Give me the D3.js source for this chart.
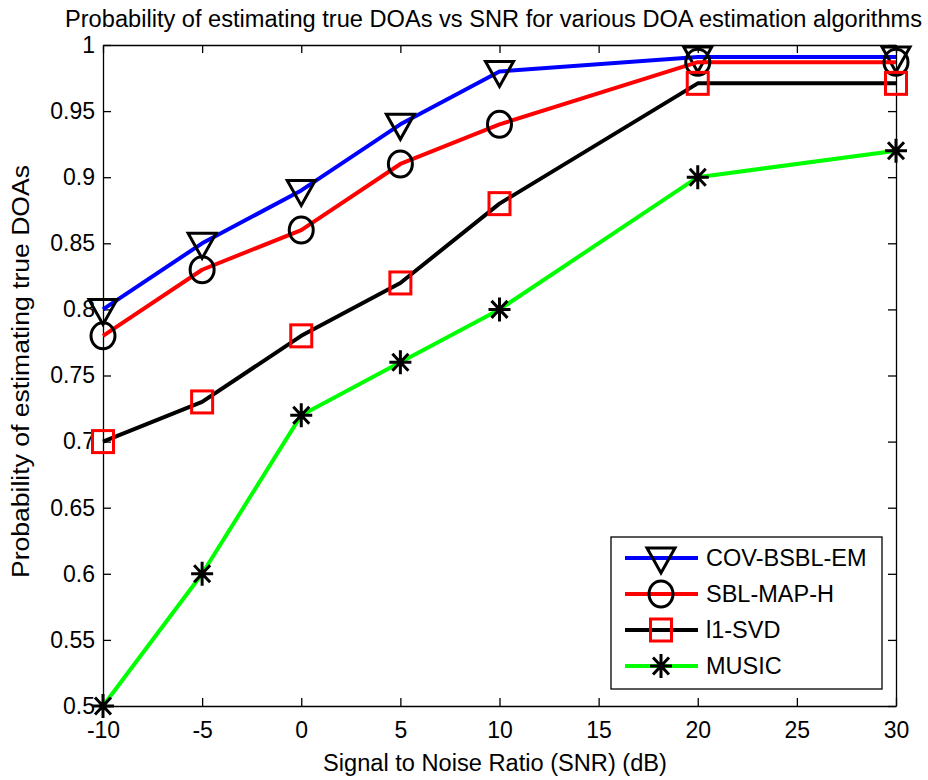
<!DOCTYPE html>
<html>
<head>
<meta charset="utf-8">
<script src="https://cdn.jsdelivr.net/npm/d3@7"></script>
<style>
  body { margin: 0; background: #fff; }
  text { font-family: "Liberation Sans", Arial, sans-serif; fill: #000; }
  .axis path, .axis line { stroke: #000; stroke-width: 1.3; }
  .axis text { font-size: 23px; }
</style>
</head>
<body>
<div id="chart"></div>
<script>
// SNR values (dB) and per-algorithm probabilities
const snr = [-10, -5, 0, 5, 10, 20, 30];
const covBsblEm = [0.80, 0.85, 0.89, 0.94, 0.98, 0.991, 0.991];
const sblMapH = [0.78, 0.83, 0.86, 0.91, 0.94, 0.987, 0.987];
const l1Svd = [0.70, 0.73, 0.78, 0.82, 0.88, 0.971, 0.971];
const music = [0.50, 0.60, 0.72, 0.76, 0.80, 0.90, 0.92];

const seriesNames = ['COV-BSBL-EM', 'SBL-MAP-H', 'l1-SVD', 'MUSIC'];
const legendLabels = ['COV-BSBL-EM', 'SBL-MAP-H', 'l1-SVD', 'MUSIC'];

const xTicks = [-10, -5, 0, 5, 10, 15, 20, 25, 30];
const xTickLabels = ['-10', '-5', '0', '5', '10', '15', '20', '25', '30'];
const yTicks = [0.5, 0.55, 0.6, 0.65, 0.7, 0.75, 0.8, 0.85, 0.9, 0.95, 1];
const yTickLabels = ['0.5', '0.55', '0.6', '0.65', '0.7', '0.75', '0.8', '0.85', '0.9', '0.95', '1'];

(function() {
  const W = 928, H = 780;
  const margin = { top: 45, left: 103, right: 32, bottom: 74 },
    width = W - margin.left - margin.right,
    height = H - margin.top - margin.bottom;

  const svg = d3.select('#chart')
    .append('svg')
      .attr('width', W)
      .attr('height', H);

  svg.append('rect').attr('width', W).attr('height', H).attr('fill', '#fff');

  const g = svg.append('g')
    .attr('transform', `translate(${margin.left},${margin.top})`);

  const x = d3.scaleLinear().domain([-10, 30]).range([0, width]);
  const y = d3.scaleLinear().domain([0.5, 1]).range([height, 0]);

  /*
    matlab style box: ticks inside on all four sides,
    labels only on bottom and left
  */
  g.append('g')
    .attr('class', 'axis')
    .attr('transform', `translate(0,${height})`)
    .call(d3.axisBottom(x).tickValues(xTicks).tickSize(-8).tickSizeOuter(0).tickPadding(16)
      .tickFormat((d, i) => xTickLabels[i]));

  g.append('g')
    .attr('class', 'axis')
    .call(d3.axisLeft(y).tickValues(yTicks).tickSize(-8).tickSizeOuter(0).tickPadding(8)
      .tickFormat((d, i) => yTickLabels[i]));

  g.append('g')
    .attr('class', 'axis')
    .call(d3.axisTop(x).tickValues(xTicks).tickSize(-8).tickSizeOuter(0).tickFormat(''));

  g.append('g')
    .attr('class', 'axis')
    .attr('transform', `translate(${width},0)`)
    .call(d3.axisRight(y).tickValues(yTicks).tickSize(-8).tickSizeOuter(0).tickFormat(''));

  g.selectAll('.axis .tick text').attr('font-family', '"Liberation Sans", Arial, sans-serif');

  // marker shapes
  function drawMarker(sel, type) {
    if (type === 'tri') {
      sel.append('path')
        .attr('d', 'M-14,-10L14,-10L0,15Z')
        .attr('fill', 'none').attr('stroke', '#000').attr('stroke-width', 3);
    } else if (type === 'circle') {
      sel.append('ellipse')
        .attr('rx', 12).attr('ry', 13)
        .attr('fill', 'none').attr('stroke', '#000').attr('stroke-width', 3);
    } else if (type === 'square') {
      sel.append('rect')
        .attr('x', -10.5).attr('y', -11).attr('width', 21).attr('height', 22)
        .attr('fill', 'none').attr('stroke', '#ff0000').attr('stroke-width', 3);
    } else {
      sel.append('path')
        .attr('d', 'M-11,0L11,0M0,-12L0,12M-8,-8.5L8,8.5M-8,8.5L8,-8.5')
        .attr('fill', 'none').attr('stroke', '#000').attr('stroke-width', 3);
    }
  }

  const series = [
    { name: seriesNames[0], values: covBsblEm, color: '#0000ff', marker: 'tri' },
    { name: seriesNames[1], values: sblMapH, color: '#ff0000', marker: 'circle' },
    { name: seriesNames[2], values: l1Svd, color: '#000000', marker: 'square' },
    { name: seriesNames[3], values: music, color: '#00ff00', marker: 'star' }
  ];

  const line = d3.line()
    .x(d => x(d[0]))
    .y(d => y(d[1]));

  series.forEach(s => {
    const pts = snr.map((v, i) => [v, s.values[i]]);
    const sg = g.append('g').attr('class', 'series');
    sg.append('path')
      .datum(pts)
      .attr('d', line)
      .attr('fill', 'none')
      .attr('stroke', s.color)
      .attr('stroke-width', 4)
      .attr('stroke-linejoin', 'round');
    sg.selectAll('.mk')
      .data(pts)
      .enter().append('g')
      .attr('class', 'mk')
      .attr('transform', d => `translate(${x(d[0])},${y(d[1])})`)
      .each(function() { drawMarker(d3.select(this), s.marker); });
  });

  // legend
  const legend = svg.append('g').attr('transform', 'translate(611,537)');
  legend.append('rect')
    .attr('width', 271).attr('height', 152)
    .attr('fill', '#fff').attr('stroke', '#000').attr('stroke-width', 1.3);

  series.forEach((s, i) => {
    const row = legend.append('g').attr('transform', `translate(0,${21 + i * 36})`);
    row.append('line')
      .attr('x1', 14).attr('x2', 87)
      .attr('stroke', s.color).attr('stroke-width', 4);
    drawMarker(row.append('g').attr('transform', 'translate(50,0)'), s.marker);
    row.append('text')
      .attr('x', 95).attr('dy', '0.36em')
      .style('font-size', '23.5px')
      .text(legendLabels[i]);
  });

  // title and axis labels
  svg.append('text')
    .attr('x', 65).attr('y', 27)
    .attr('textLength', 857).attr('lengthAdjust', 'spacingAndGlyphs')
    .style('font-size', '23.5px')
    .text('Probability of estimating true DOAs vs SNR for various DOA estimation algorithms');

  svg.append('text')
    .attr('x', 323).attr('y', 771)
    .attr('textLength', 344).attr('lengthAdjust', 'spacingAndGlyphs')
    .style('font-size', '23.5px')
    .text('Signal to Noise Ratio (SNR) (dB)');

  svg.append('text')
    .attr('transform', 'translate(29,578) rotate(-90)')
    .attr('textLength', 413).attr('lengthAdjust', 'spacingAndGlyphs')
    .style('font-size', '23.5px')
    .text('Probability of estimating true DOAs');
})();
</script>
</body>
</html>
